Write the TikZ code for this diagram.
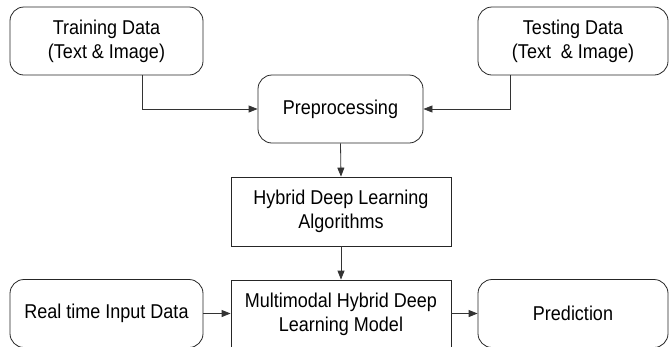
\documentclass[tikz,border=0pt]{standalone}
\usepackage{fontspec}
\setmainfont{Liberation Sans}[FakeStretch=0.9]
\usetikzlibrary{arrows.meta}
\begin{document}
\begin{tikzpicture}[x=1pt,y=-1pt,
  base/.style={draw=black!85, line width=0.8pt, inner sep=0pt, align=center,
    font=\fontsize{20}{24}\selectfont, anchor=center},
  rbox/.style={base, rounded corners=14pt},
  sbox/.style={base},
  arr/.style={draw=black!80, line width=0.8pt, -{Triangle[length=9pt,width=7pt]}}]
\useasboundingbox (0,0) rectangle (669,346);
\clip (0,0) rectangle (669,346);
\node[rbox, minimum width=193pt, minimum height=68pt] (train) at (106.5,41) {Training Data\\(Text \& Image)};
\node[rbox, minimum width=190pt, minimum height=68pt] (test) at (573,41) {Testing Data\\(Text~ \& Image)};
\node[rbox, minimum width=165pt, minimum height=68pt] (prep) at (340.5,109) {Preprocessing};
\node[sbox, minimum width=220pt, minimum height=69pt] (hyb) at (341,211.5) {Hybrid Deep Learning\\Algorithms};
\node[sbox, minimum width=220pt, minimum height=68pt] (multi) at (341,314) {Multimodal Hybrid Deep\\Learning Model};
\node[rbox, minimum width=193pt, minimum height=68pt] (real) at (106.5,313.5) {Real time Input Data};
\node[rbox, minimum width=190pt, minimum height=68pt] (pred) at (573,313.5) {Prediction};
\draw[arr] ([xshift=35.5pt]train.south) |- (prep.west);
\draw[arr] ([xshift=-63pt]test.south) |- (prep.east);
\draw[arr] (prep.south) -- (hyb.north);
\draw[arr] (hyb.south) -- (multi.north);
\draw[arr] (real.east) -- (real.east -| multi.west);
\draw[arr] (multi.east |- pred.west) -- (pred.west);
\end{tikzpicture}
\end{document}
